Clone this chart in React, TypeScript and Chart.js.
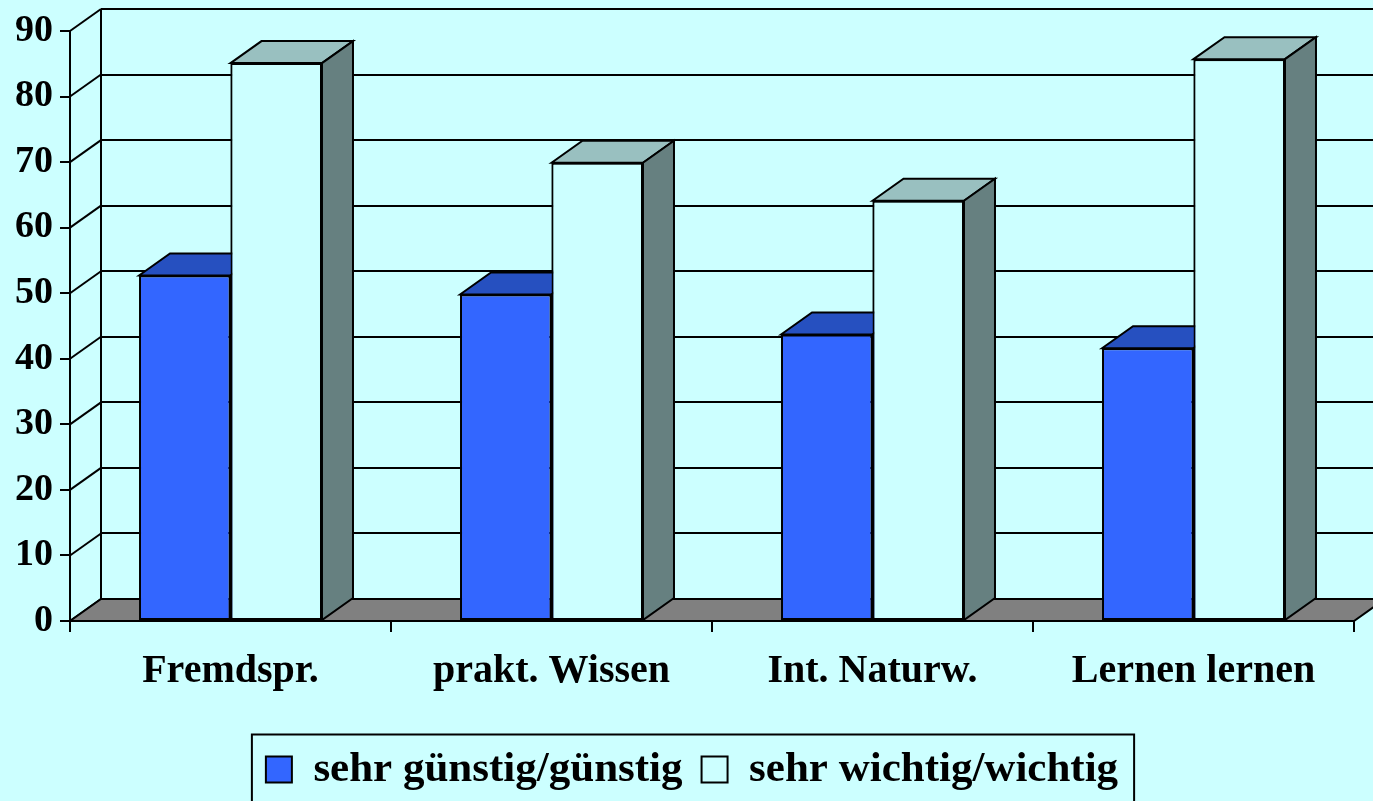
import React, { useEffect, useRef } from 'react';
import { Chart, registerables } from 'chart.js';

Chart.register(...registerables);

const categories = ['Fremdspr.', 'prakt. Wissen', 'Int. Naturw.', 'Lernen lernen'];
const seriesNames = ['sehr günstig/günstig', 'sehr wichtig/wichtig'];
const guenstigValues = [52.7, 49.8, 43.7, 41.6];
const wichtigValues = [85.1, 69.9, 64.1, 85.7];
const yTickValues = [0, 10, 20, 30, 40, 50, 60, 70, 80, 90];

const BG = '#CCFFFF';
const FAMILY = '"Liberation Serif", "Times New Roman", serif';
const DX = 31;
const DY = -22;
const LEGEND_SHIFT = 9;

const faceColors = [
  { top: '#2650C0', side: '#1E3F99' },
  { top: '#99C0C0', side: '#668080' },
];

function drawFaces(ctx: any, meta: any, colors: { top: string; side: string }) {
  ctx.save();
  ctx.strokeStyle = '#000';
  ctx.lineWidth = 2;
  ctx.lineJoin = 'miter';
  meta.data.forEach((el: any) => {
    const { x, y, base, width } = el.getProps(['x', 'y', 'base', 'width'], true);
    const l = x - width / 2;
    const r = x + width / 2;
    ctx.beginPath();
    ctx.moveTo(l, y);
    ctx.lineTo(l + DX, y + DY);
    ctx.lineTo(r + DX, y + DY);
    ctx.lineTo(r, y);
    ctx.closePath();
    ctx.fillStyle = colors.top;
    ctx.fill();
    ctx.stroke();
    ctx.beginPath();
    ctx.moveTo(r, y);
    ctx.lineTo(r + DX, y + DY);
    ctx.lineTo(r + DX, base + DY);
    ctx.lineTo(r, base);
    ctx.closePath();
    ctx.fillStyle = colors.side;
    ctx.fill();
    ctx.stroke();
  });
  ctx.restore();
}

const threeDPlugin = {
  id: 'threeD',
  afterLayout(chart: any) {
    const legend = chart.legend;
    if (legend) {
      legend.left += LEGEND_SHIFT;
      legend.right += LEGEND_SHIFT;
    }
  },
  beforeDraw(chart: any) {
    const { ctx, width, height } = chart;
    ctx.save();
    ctx.fillStyle = BG;
    ctx.fillRect(0, 0, width, height);
    ctx.restore();
  },
  beforeDatasetsDraw(chart: any) {
    const { ctx, chartArea } = chart;
    const y = chart.scales.y;
    const left = chartArea.left;
    const right = chartArea.right;
    const base = y.getPixelForValue(0);
    const topV = y.getPixelForValue(yTickValues[yTickValues.length - 1]);
    ctx.save();
    ctx.strokeStyle = '#000';
    ctx.lineWidth = 2;
    ctx.lineJoin = 'miter';
    yTickValues.forEach((v) => {
      if (v === 0) return;
      const py = Math.round(y.getPixelForValue(v) + DY);
      ctx.beginPath();
      ctx.moveTo(left + DX, py);
      ctx.lineTo(right + DX + 40, py);
      ctx.stroke();
    });
    ctx.beginPath();
    ctx.moveTo(left + DX, topV + DY);
    ctx.lineTo(left + DX, base + DY);
    ctx.stroke();
    yTickValues.forEach((v) => {
      const py = y.getPixelForValue(v);
      ctx.beginPath();
      ctx.moveTo(left, py);
      ctx.lineTo(left + DX, py + DY);
      ctx.stroke();
    });
    ctx.beginPath();
    ctx.moveTo(left, base);
    ctx.lineTo(left + DX, base + DY);
    ctx.lineTo(right + DX, base + DY);
    ctx.lineTo(right, base);
    ctx.closePath();
    ctx.fillStyle = '#808080';
    ctx.fill();
    ctx.stroke();
    ctx.restore();
  },
  afterDatasetsDraw(chart: any) {
    const { ctx } = chart;
    const n = chart.data.datasets.length;
    for (let i = 0; i < n; i++) {
      const meta = chart.getDatasetMeta(i);
      if (i > 0) {
        meta.data.forEach((el: any) => el.draw(ctx));
      }
      drawFaces(ctx, meta, faceColors[i]);
    }
  },
  afterDraw(chart: any) {
    const legend = chart.legend;
    if (!legend || !legend.legendHitBoxes || !legend.legendHitBoxes.length) return;
    const hbs = legend.legendHitBoxes;
    const first = hbs[0];
    const last = hbs[hbs.length - 1];
    const cy = first.top + first.height / 2;
    const { ctx } = chart;
    ctx.save();
    ctx.strokeStyle = '#000';
    ctx.lineWidth = 2;
    ctx.strokeRect(first.left - 14, cy - 35, last.left + last.width + 16 - (first.left - 14), 100);
    ctx.restore();
  },
};

export default function App() {
  const canvasRef = useRef<HTMLCanvasElement | null>(null);

  useEffect(() => {
    if (!canvasRef.current) return;
    const chart = new Chart(canvasRef.current, {
      type: 'bar',
      data: {
        labels: categories,
        datasets: [
          {
            label: seriesNames[0],
            data: guenstigValues,
            backgroundColor: '#3366FF',
            borderColor: '#000',
            borderWidth: 2,
            borderSkipped: false,
            categoryPercentage: 0.57,
            barPercentage: 1.0,
          },
          {
            label: seriesNames[1],
            data: wichtigValues,
            backgroundColor: BG,
            borderColor: '#000',
            borderWidth: 2,
            borderSkipped: false,
            categoryPercentage: 0.57,
            barPercentage: 1.0,
          },
        ],
      },
      options: {
        responsive: false,
        animation: false,
        events: [],
        layout: { padding: { top: 31, left: 12, right: 19, bottom: 0 } },
        plugins: {
          tooltip: { enabled: false },
          legend: {
            position: 'bottom',
            labels: {
              boxWidth: 26,
              boxHeight: 26,
              padding: 19,
              color: '#000',
              font: { family: FAMILY, size: 43, weight: 'bold' },
            },
          },
        },
        scales: {
          x: {
            offset: true,
            grid: {
              display: true,
              drawOnChartArea: false,
              drawTicks: true,
              tickLength: 11,
              color: '#000',
              lineWidth: 2,
              offset: true,
            },
            border: { display: true, color: '#000', width: 2 },
            ticks: {
              color: '#000',
              padding: 16,
              maxRotation: 0,
              font: { family: FAMILY, size: 40, weight: 'bold' },
            },
            afterFit: (s: any) => {
              s.height = 108;
            },
          },
          y: {
            min: 0,
            max: 90,
            grid: {
              display: true,
              drawOnChartArea: false,
              drawTicks: true,
              tickLength: 10,
              color: '#000',
              lineWidth: 2,
            },
            border: { display: true, color: '#000', width: 2 },
            ticks: {
              stepSize: 10,
              color: '#000',
              padding: 7,
              font: { family: FAMILY, size: 38, weight: 'bold' },
            },
            afterFit: (s: any) => {
              s.width = 58;
            },
          },
        },
      },
      plugins: [threeDPlugin],
    } as any);
    return () => chart.destroy();
  }, []);

  return (
    <div style={{ position: 'fixed', left: 0, top: 0, width: 1373, height: 801, background: BG }}>
      <canvas ref={canvasRef} width={1373} height={801} style={{ display: 'block' }} />
    </div>
  );
}
